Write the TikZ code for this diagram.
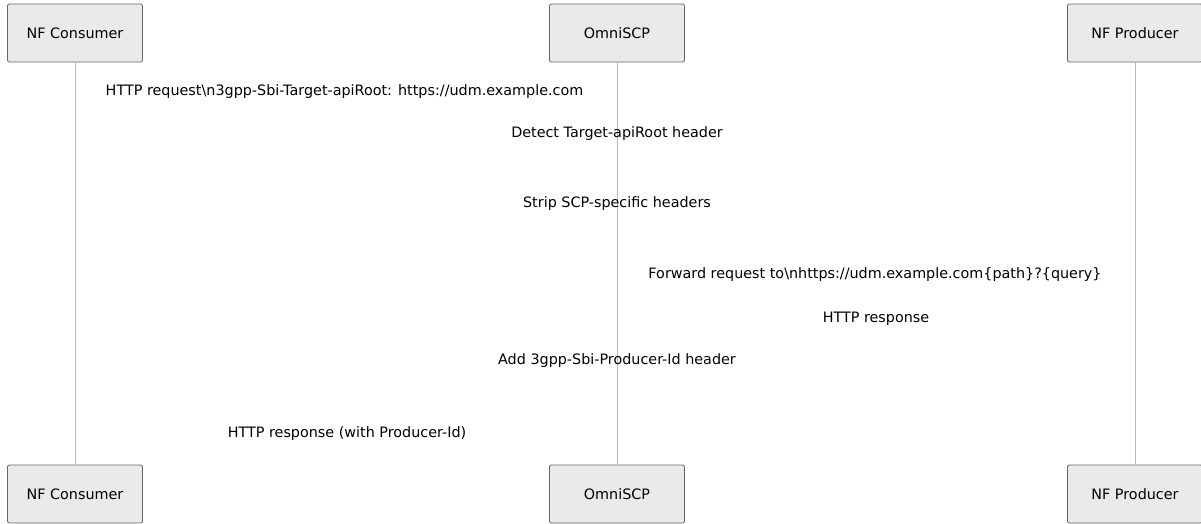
\documentclass[tikz,border=0pt]{standalone}
\usepackage{fontspec}
\setmainfont{DejaVu Sans}
\usepackage{tikz}
\usepackage{xcolor}
\definecolor{actorfill}{HTML}{EAEAEA}
\definecolor{actorline}{HTML}{666666}
\definecolor{lifeline}{HTML}{BBBBBB}

\begin{document}
\begin{tikzpicture}[x=1pt,y=-1pt]
	\tikzstyle{every node}+=[font=\fontsize{14.35}{17}\selectfont]
	\tikzstyle{actor}=[draw=actorline, fill=actorfill, rounded corners=2pt, line width=0.8pt, minimum width=135pt, minimum height=58pt, inner sep=0pt]
	\tikzstyle{msg}=[inner sep=0pt]
	\useasboundingbox (0,0) rectangle (1201,524);
	% actors, top row
	\node [actor] (cons) at (75,33) {NF Consumer};
	\node [actor] (scp) at (617,33) {OmniSCP};
	\node [actor] (prod) at (1135,33) {NF Producer};
	% actors, bottom row
	\node [actor] (consb) at (75,494) {NF Consumer};
	\node [actor] (scpb) at (617,494) {OmniSCP};
	\node [actor] (prodb) at (1135,494) {NF Producer};
	% lifelines
	\draw [lifeline, line width=0.8pt] (cons) -- (consb);
	\draw [lifeline, line width=0.8pt] (scp) -- (scpb);
	\draw [lifeline, line width=0.8pt] (prod) -- (prodb);
	% messages
	\node [msg] (m1) at (344.5,91.5) {HTTP request\textbackslash n3gpp-Sbi-Target-apiRoot: https://udm.example.com};
	\node [msg] (m2) at (617,133.5) {Detect Target-apiRoot header};
	\node [msg] (m3) at (617,203.5) {Strip SCP-specific headers};
	\node [msg] (m4) at (875,274.5) {Forward request to\textbackslash nhttps://udm.example.com\{path\}?\{query\}};
	\node [msg] (m5) at (876,318.5) {HTTP response};
	\node [msg] (m6) at (617,360.5) {Add 3gpp-Sbi-Producer-Id header};
	\node [msg] (m7) at (347,433.5) {HTTP response (with Producer-Id)};
\end{tikzpicture}
\end{document}
